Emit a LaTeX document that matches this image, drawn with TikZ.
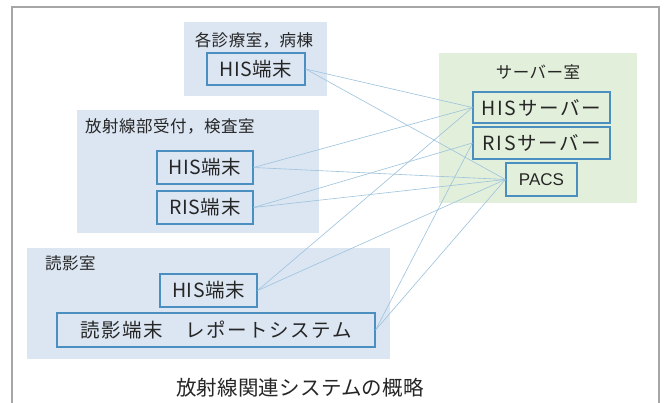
\documentclass[tikz,border=0pt]{standalone}
\usepackage{fontspec}
\newfontfamily\labf[LetterSpace=3]{Noto Sans CJK JP}
\newfontfamily\boxf[LetterSpace=3]{Noto Sans CJK JP}
\newfontfamily\widef[LetterSpace=8]{Noto Sans CJK JP}
\newfontfamily\srvf[LetterSpace=9]{Noto Sans CJK JP}
\newfontfamily\capf[LetterSpace=1]{Noto Sans CJK JP}
\newfontfamily\latf{Liberation Sans}
\definecolor{grpblue}{HTML}{DCE6F2}
\definecolor{grpgreen}{HTML}{E2EFDA}
\definecolor{boxline}{HTML}{4A8FC0}
\definecolor{conn}{HTML}{9CC2DE}
\definecolor{framec}{HTML}{A6A6A6}
\definecolor{txt}{HTML}{262626}
\tikzset{
  grp/.style={fill=#1, draw=none, inner sep=0pt},
  lab/.style={text=txt, inner sep=0pt, font=\labf\fontsize{16.5}{19}\selectfont},
  term/.style={draw=boxline, line width=1.2pt, inner sep=0pt, text=txt, font=\boxf\fontsize{19.5}{22}\selectfont},
  srv/.style={draw=boxline, line width=1.2pt, inner sep=0pt, text=txt, font=\srvf\fontsize{19.5}{22}\selectfont},
  link/.style={draw=conn, line width=0.6pt},
  capt/.style={text=txt, inner sep=0pt, font=\capf\fontsize{20.5}{24}\selectfont}
}
\begin{document}
\begin{tikzpicture}[x=1pt,y=-1pt]
\useasboundingbox (0,0) rectangle (670,403);
\fill[white] (0,0) rectangle (670,403);
\draw[framec, line width=2pt] (12,7) rectangle (659,415);

% groups
\node[grp=grpblue, minimum width=143pt, minimum height=74pt] (g1) at (255.5,59) {};
\node[grp=grpblue, minimum width=242pt, minimum height=123pt] (g2) at (198,171.5) {};
\node[grp=grpblue, minimum width=363pt, minimum height=111pt] (g3) at (208.5,303.5) {};
\node[grp=grpgreen, minimum width=198pt, minimum height=150pt] (gs) at (538,128) {};

% labels
\node[lab] (l1) at (254,40) {各診療室，病棟};
\node[lab, anchor=west] (l2) at (85,126) {放射線部受付，検査室};
\node[lab, anchor=west] (l3) at (45,263) {読影室};
\node[lab] (l4) at (538,72) {サーバー室};

% terminals and servers
\node[term, minimum width=98pt, minimum height=32pt] (b1) at (256,69) {HIS端末};
\node[term, minimum width=96pt, minimum height=33pt] (b2) at (205,167.5) {HIS端末};
\node[term, minimum width=96pt, minimum height=33pt] (b3) at (205,207.5) {RIS端末};
\node[term, minimum width=97pt, minimum height=33pt] (b4) at (208.5,290.5) {HIS端末};
\node[term, font=\widef\fontsize{19.5}{22}\selectfont, minimum width=318pt, minimum height=34pt] (b5) at (216,330) {読影端末　レポートシステム};
\node[srv, minimum width=137pt, minimum height=31pt] (s1) at (541.5,107.5) {HISサーバー};
\node[srv, minimum width=137pt, minimum height=32pt] (s2) at (541.5,143) {RISサーバー};
\node[term, font=\latf\fontsize{17}{20}\selectfont, minimum width=71pt, minimum height=33pt] (s3) at (541.5,179.5) {PACS};

% connectors
\draw[link] (b1.east) -- (s1.west);
\draw[link] (b1.east) -- (s3.west);
\draw[link] (b2.east) -- (s1.west);
\draw[link] (b2.east) -- (s3.west);
\draw[link] (b3.east) -- (s2.west);
\draw[link] (b3.east) -- (s3.west);
\draw[link] (b4.east) -- (s1.west);
\draw[link] (b4.east) -- (s3.west);
\draw[link] (b5.east) -- (s2.west);
\draw[link] (b5.east) -- (s3.west);

\node[capt] (cap) at (300,388) {放射線関連システムの概略};
\end{tikzpicture}
\end{document}
